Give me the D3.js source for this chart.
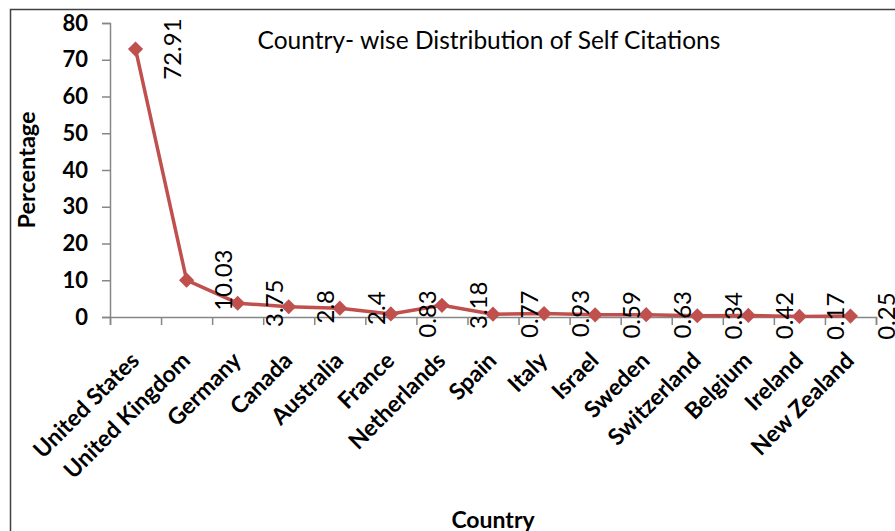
<!DOCTYPE html>
<html>
<head>
<meta charset="utf-8">
<script src="https://cdn.jsdelivr.net/npm/d3@7"></script>
<style>
  body { margin: 0; background: #fff; }
  svg { display: block; font-family: Lato, "Liberation Sans", sans-serif; }
</style>
</head>
<body>
<svg id="chart" width="895" height="531"></svg>
<script>
// 数据
const countries = ["United States", "United Kingdom", "Germany", "Canada", "Australia", "France",
  "Netherlands", "Spain", "Italy", "Israel", "Sweden", "Switzerland", "Belgium", "Ireland", "New Zealand"];
const percentages = [72.91, 10.03, 3.75, 2.8, 2.4, 0.83, 3.18, 0.77, 0.93, 0.59, 0.63, 0.34, 0.42, 0.17, 0.25];
const yTicks = [0, 10, 20, 30, 40, 50, 60, 70, 80];

const svg = d3.select("#chart");
const plotLeft = 110, plotRight = 876, plotTop = 23, plotBottom = 317;
const lineColor = "#C0504D", axisColor = "#868686";

// 外框 (只看到上边和左边)
svg.append("path")
  .attr("d", "M10.5,531 L10.5,9.5 L895,9.5")
  .attr("fill", "none")
  .attr("stroke", "#404040")
  .attr("stroke-width", 1.5);

const x = d3.scaleBand().domain(countries).range([plotLeft, plotRight]).padding(0);
const y = d3.scaleLinear().domain([0, 80]).range([plotBottom, plotTop]);
const xEdge = d3.scaleLinear().domain([0, countries.length]).range([plotLeft, plotRight]);

// y 轴
const yAxis = svg.append("g")
  .attr("transform", `translate(${plotLeft},0)`)
  .call(d3.axisLeft(y).tickValues(yTicks).tickSize(8).tickPadding(14));
yAxis.select(".domain").attr("stroke", axisColor).attr("stroke-width", 1.5);
yAxis.selectAll(".tick line").attr("stroke", axisColor).attr("stroke-width", 1.5);
yAxis.selectAll(".tick text")
  .attr("fill", "#000")
  .attr("font-size", 22)
  .attr("font-weight", "bold")
  .attr("font-family", "Lato, sans-serif");

// x 轴 (刻度在分类边界)
const xAxis = svg.append("g")
  .attr("transform", `translate(0,${plotBottom})`)
  .call(d3.axisBottom(xEdge).tickValues(d3.range(countries.length + 1)).tickSize(8).tickFormat(""));
xAxis.select(".domain").attr("stroke", axisColor).attr("stroke-width", 1.5);
xAxis.selectAll(".tick line").attr("stroke", axisColor).attr("stroke-width", 1.5);

// 分类标签
svg.append("g").selectAll("text")
  .data(countries)
  .join("text")
  .attr("transform", d => `translate(${x(d) + x.bandwidth() / 2 + 5},${plotBottom + 45}) rotate(-45)`)
  .attr("text-anchor", "end")
  .attr("font-size", 23)
  .attr("font-weight", "bold")
  .attr("fill", "#000")
  .text(d => d);

// 折线
const line = d3.line()
  .x((d, i) => x(countries[i]) + x.bandwidth() / 2)
  .y(d => y(d));
svg.append("path")
  .datum(percentages)
  .attr("d", line)
  .attr("fill", "none")
  .attr("stroke", lineColor)
  .attr("stroke-width", 3.5)
  .attr("stroke-linejoin", "round");

// 菱形标记
svg.append("g").selectAll("path")
  .data(percentages)
  .join("path")
  .attr("d", d3.symbol(d3.symbolSquare, 115))
  .attr("transform", (d, i) => `translate(${x(countries[i]) + x.bandwidth() / 2},${y(d)}) rotate(45)`)
  .attr("fill", lineColor);

// 数据标签 (竖排)
svg.append("g").selectAll("text")
  .data(percentages)
  .join("text")
  .attr("transform", (d, i) => `translate(${x(countries[i]) + x.bandwidth() / 2 + 45},${y(d)}) rotate(-90)`)
  .attr("text-anchor", "middle")
  .attr("font-size", 24)
  .attr("fill", "#000")
  .text(d => d);

// 标题
svg.append("text")
  .attr("x", 489)
  .attr("y", 49)
  .attr("text-anchor", "middle")
  .attr("font-size", 24.5)
  .attr("fill", "#000")
  .text("Country- wise Distribution of Self Citations");

// 轴标题
svg.append("text")
  .attr("transform", `translate(35,${(plotTop + plotBottom) / 2}) rotate(-90)`)
  .attr("text-anchor", "middle")
  .attr("font-size", 23.5)
  .attr("font-weight", "bold")
  .text("Percentage");

svg.append("text")
  .attr("x", (plotLeft + plotRight) / 2)
  .attr("y", 528)
  .attr("text-anchor", "middle")
  .attr("font-size", 23)
  .attr("font-weight", "bold")
  .text("Country");
</script>
</body>
</html>
